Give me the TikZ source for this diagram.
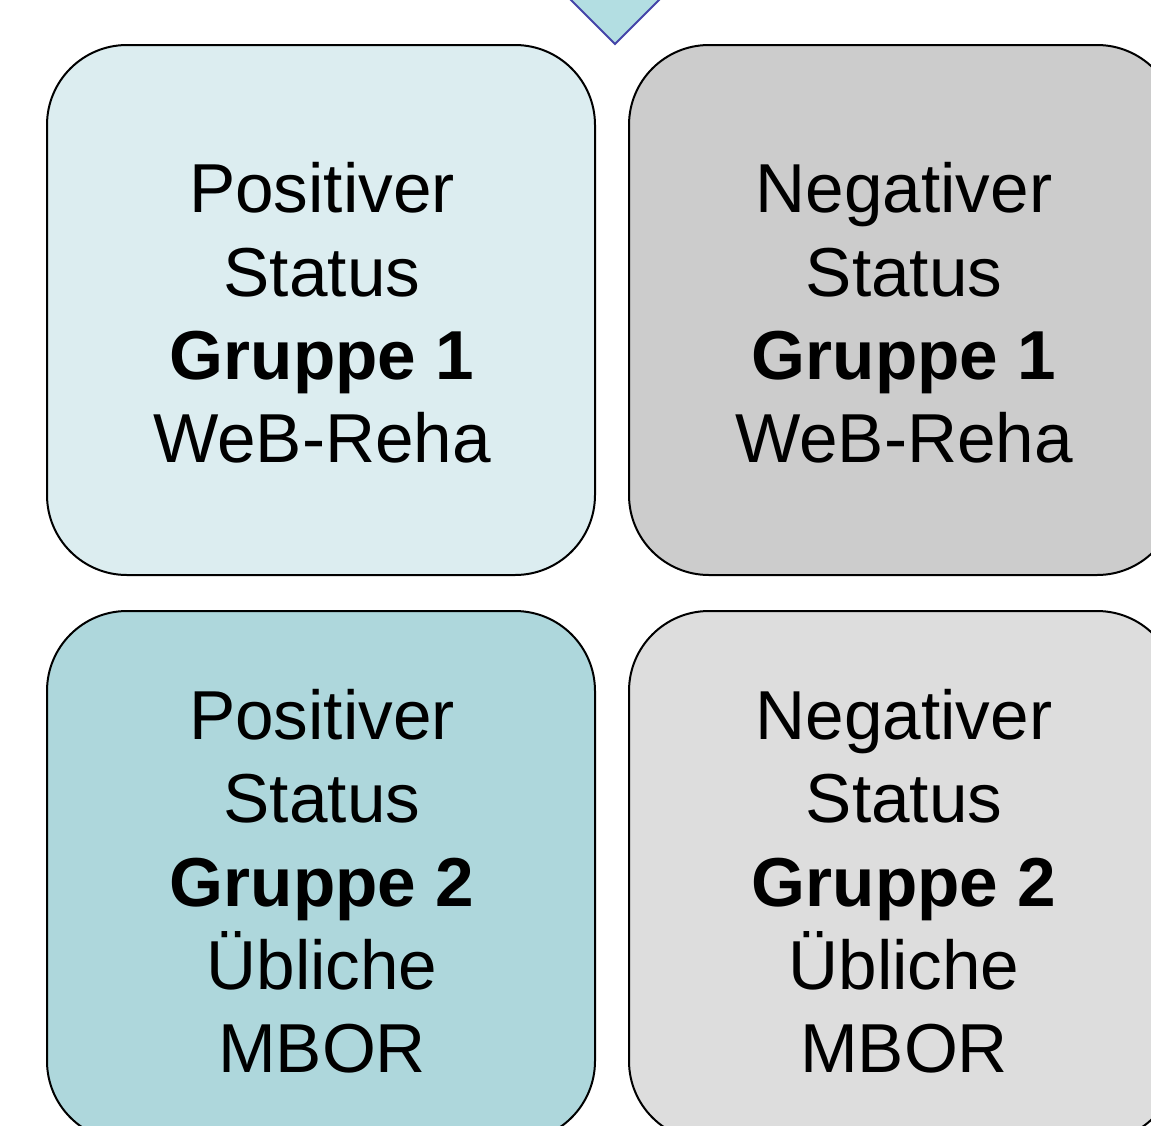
\documentclass[tikz,border=0pt]{standalone}
\usepackage{fontspec}
\setmainfont{Liberation Sans}
\definecolor{posA}{HTML}{DCEDF0}
\definecolor{negA}{HTML}{CCCCCC}
\definecolor{posB}{HTML}{AED7DC}
\definecolor{negB}{HTML}{DDDDDD}
\definecolor{arrowfill}{HTML}{B3DEE2}
\definecolor{arrowline}{HTML}{4444A8}
\tikzset{
  cell/.style={draw=black, line width=2pt, rounded corners=80pt,
    minimum width=548pt, minimum height=530pt, inner sep=0pt},
  celltext/.style={align=center, inner sep=0pt,
    font=\fontsize{69.3}{83.3}\selectfont}
}
\begin{document}
\begin{tikzpicture}[x=1pt, y=-1pt]
  \useasboundingbox (0,0) rectangle (1151,1125);
  \clip (0,0) rectangle (1151,1125);
  \fill[white] (0,0) rectangle (1151,1125);

  % downward pointer above the grid
  \draw[fill=arrowfill, draw=arrowline, line width=2pt, line join=miter]
    (530,-41) -- (700,-41) -- (615,44) -- cycle;

  % the four status cells
  \node[cell, fill=posA] (c11) at (321,310) {};
  \node[cell, fill=negA] (c12) at (903,310) {};
  \node[cell, fill=posB] (c21) at (321,876) {};
  \node[cell, fill=negB] (c22) at (903,876) {};

  \node[celltext] (t11) at (322,313) {Positiver\\Status\\\textbf{Gruppe 1}\\WeB-Reha};
  \node[celltext] (t12) at (904,313) {Negativer\\Status\\\textbf{Gruppe 1}\\WeB-Reha};
  \node[celltext] (t21) at (322,881.5) {Positiver\\Status\\\textbf{Gruppe 2}\\Übliche\\MBOR};
  \node[celltext] (t22) at (904,881.5) {Negativer\\Status\\\textbf{Gruppe 2}\\Übliche\\MBOR};
\end{tikzpicture}
\end{document}
